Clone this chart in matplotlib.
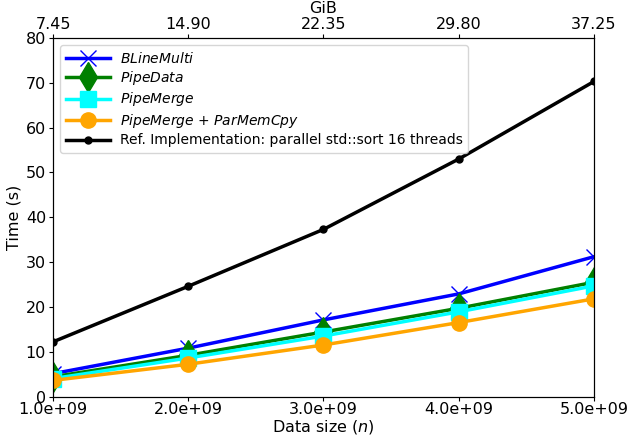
import matplotlib
matplotlib.use("Agg")
import matplotlib.pyplot as plt

sizes = [1e9, 2e9, 3e9, 4e9, 5e9]
gib_labels = ["7.45", "14.90", "22.35", "29.80", "37.25"]
bline = [5.1, 10.8, 17.1, 22.9, 31.2]
pipedata = [4.4, 9.2, 14.4, 19.7, 25.5]
pipemerge = [4.0, 8.6, 13.5, 18.9, 24.7]
pipemerge_par = [3.6, 7.2, 11.5, 16.5, 21.8]
ref_impl = [12.2, 24.6, 37.3, 53.0, 70.3]

fig = plt.figure(figsize=(6.29, 4.38), dpi=100)
ax = fig.add_axes([0.0843, 0.0947, 0.860, 0.8185])

lw = 2.5
ax.plot(sizes, bline, color="blue", marker="x", markersize=11, markeredgewidth=1.0, lw=lw, label="$\\it{BLineMulti}$")
ax.plot(sizes, pipedata, color="green", marker="d", markersize=15, lw=lw, label="$\\it{PipeData}$")
ax.plot(sizes, pipemerge, color="cyan", marker="s", markersize=11, lw=lw, label="$\\it{PipeMerge}$")
ax.plot(sizes, pipemerge_par, color="orange", marker="o", markersize=11, lw=lw, label="$\\it{PipeMerge}$ + $\\it{ParMemCpy}$")
ax.plot(sizes, ref_impl, color="black", marker="o", markersize=5, lw=lw, label="Ref. Implementation: parallel std::sort 16 threads")

ax.set_xlim(1e9, 5e9)
ax.set_ylim(0, 80)
ax.set_xticks(sizes)
ax.set_xticklabels(["%.1e" % s for s in sizes])
ax.tick_params(axis="both", labelsize=11.5, length=3, pad=2)
ax.tick_params(axis="x", pad=1)
ax.set_xlabel("Data size ($n$)", fontsize=11.5, labelpad=1)
ax.set_ylabel("Time (s)", fontsize=11.5, labelpad=3)
ax.legend(loc="upper left", fontsize=10, handlelength=3.2, labelspacing=0.25,
          borderpad=0.4, handletextpad=0.7)

ax2 = ax.twiny()
ax2.set_xlim(1e9, 5e9)
ax2.set_xticks(sizes)
ax2.set_xticklabels(gib_labels)
ax2.tick_params(labelsize=11.5, length=3, pad=1)
ax2.set_xlabel("GiB", fontsize=11.5, labelpad=3)

fig.savefig("out.png", dpi=100)
